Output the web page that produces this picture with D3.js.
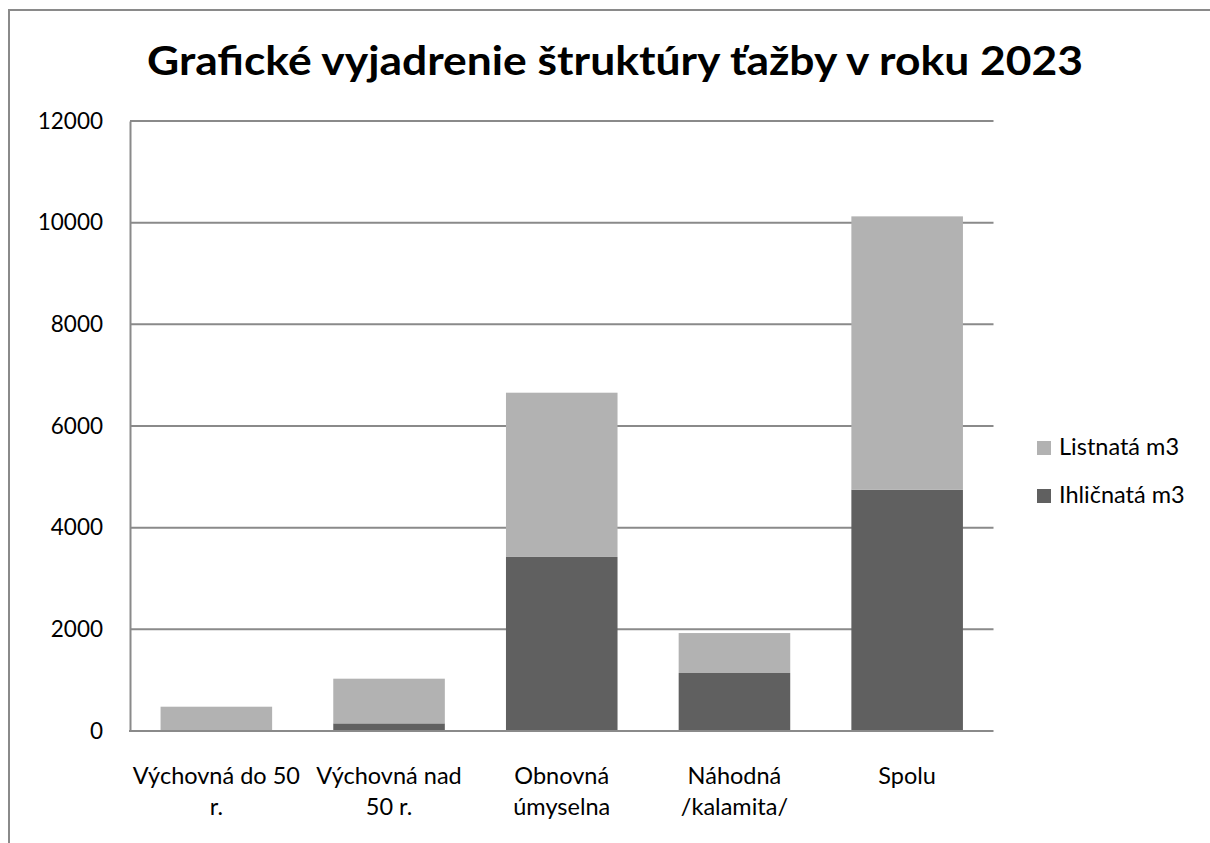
<!DOCTYPE html>
<html>
<head>
<meta charset="utf-8">
<script src="https://cdn.jsdelivr.net/npm/d3@7"></script>
<style>
  body { margin: 0; background: #fff; }
  text { font-family: Lato, "Open Sans", sans-serif; fill: #000; }
</style>
</head>
<body>
<svg id="chart" width="1210" height="843"></svg>
<script>
const title = "Grafické vyjadrenie štruktúry ťažby v roku 2023";
const categories = [
  ["Výchovná do 50", "r."],
  ["Výchovná nad", "50 r."],
  ["Obnovná", "úmyselna"],
  ["Náhodná", "/kalamita/"],
  ["Spolu"],
];
const ihlicnata = [20, 150, 3424, 1141, 4747]; // Ihličnatá m3
const listnata = [458, 879, 3231, 786, 5377]; // Listnatá m3
const seriesNames = ["Ihličnatá m3", "Listnatá m3"];
const yTicks = [0, 2000, 4000, 6000, 8000, 10000, 12000];

const plotLeft = 130;
const plotRight = 993.5;
const plotTop = 121;
const plotBottom = 731;
const colors = ["#606060", "#b2b2b2"];
const lineColor = "#8a8a8a";

const svg = d3.select("#chart");

// outer frame (right and bottom edges fall outside the page)
svg.append("rect")
  .attr("x", 9).attr("y", 10)
  .attr("width", 1300).attr("height", 900)
  .attr("fill", "none")
  .attr("stroke", lineColor)
  .attr("stroke-width", 2);

svg.append("text")
  .attr("x", 615).attr("y", 75)
  .attr("text-anchor", "middle")
  .attr("font-size", 40)
  .attr("font-weight", "bold")
  .attr("textLength", 936)
  .attr("lengthAdjust", "spacingAndGlyphs")
  .text(title);

const keys = categories.map((c) => c.join(" "));
const data = keys.map((k, i) => ({ key: k, ihl: ihlicnata[i], lis: listnata[i] }));

const x = d3.scaleBand()
  .domain(keys)
  .range([plotLeft, plotRight])
  .paddingInner(0.354)
  .paddingOuter(0.177);

const y = d3.scaleLinear().domain([0, 12000]).range([plotBottom, plotTop]);

// gridlines
svg.append("g")
  .selectAll("line")
  .data(yTicks.slice(1))
  .join("line")
  .attr("x1", plotLeft).attr("x2", plotRight)
  .attr("y1", (d) => y(d)).attr("y2", (d) => y(d))
  .attr("stroke", lineColor)
  .attr("stroke-width", 2);

const stack = d3.stack().keys(["ihl", "lis"]);
const layers = stack(data);

svg.append("g")
  .selectAll("g")
  .data(layers)
  .join("g")
  .attr("fill", (d, i) => colors[i])
  .selectAll("rect")
  .data((d) => d)
  .join("rect")
  .attr("x", (d) => x(d.data.key))
  .attr("width", x.bandwidth())
  .attr("y", (d) => y(d[1]))
  .attr("height", (d) => y(d[0]) - y(d[1]));

// y axis
const yAxis = svg.append("g")
  .attr("transform", `translate(${plotLeft},0)`)
  .call(d3.axisLeft(y).tickValues(yTicks).tickSize(0).tickPadding(27).tickFormat(d3.format("d")));
yAxis.select(".domain").attr("stroke", lineColor).attr("stroke-width", 2);
yAxis.selectAll("text").attr("font-size", 22.5).attr("font-family", "Lato, sans-serif");

// x axis baseline
svg.append("line")
  .attr("x1", plotLeft - 1).attr("x2", plotRight)
  .attr("y1", plotBottom).attr("y2", plotBottom)
  .attr("stroke", lineColor)
  .attr("stroke-width", 2);

// category labels
const catLabels = svg.append("g")
  .selectAll("text")
  .data(categories)
  .join("text")
  .attr("text-anchor", "middle")
  .attr("font-size", 23.5);
catLabels.selectAll("tspan")
  .data((d, i) => d.map((t) => ({ t, key: keys[i] })))
  .join("tspan")
  .attr("x", (d) => x(d.key) + x.bandwidth() / 2)
  .attr("y", (d, j) => 784 + j * 31)
  .text((d) => d.t);

// legend
const legendItems = [
  { name: seriesNames[1], color: colors[1] },
  { name: seriesNames[0], color: colors[0] },
];
const legend = svg.append("g").attr("transform", "translate(1037,441)");
const li = legend.selectAll("g")
  .data(legendItems)
  .join("g")
  .attr("transform", (d, i) => `translate(0,${i * 48})`);
li.append("rect")
  .attr("width", 14).attr("height", 14)
  .attr("fill", (d) => d.color);
li.append("text")
  .attr("x", 22).attr("y", 14)
  .attr("font-size", 23.5)
  .text((d) => d.name);
</script>
</body>
</html>
